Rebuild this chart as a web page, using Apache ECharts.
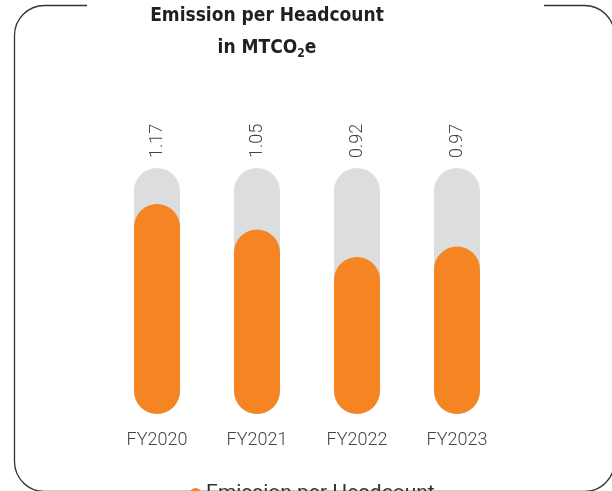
<!DOCTYPE html>
<html>
<head>
<meta charset="utf-8">
<script src="https://cdn.jsdelivr.net/npm/echarts@6/dist/echarts.min.js"></script>
<style>
  html, body { margin: 0; padding: 0; background: #fff; }
  #emissionChart { width: 612px; height: 491px; }
</style>
</head>
<body>
<div id="emissionChart"></div>
<script>
  // 数据
  var categories = ['FY2020', 'FY2021', 'FY2022', 'FY2023'];
  var emissionValues = [1.17, 1.05, 0.92, 0.97];
  var axisMin = 0.18;
  var axisMax = 1.34;
  // 灰色轨道 = 满刻度
  var trackValues = [axisMax, axisMax, axisMax, axisMax];

  var titleFont = '"Liberation Sans Narrow", "DejaVu Sans Condensed", sans-serif';

  var chart = echarts.init(document.getElementById('emissionChart'));
  chart.setOption({
    animation: false,
    title: {
      text: '{a|Emission per Headcount}\n{a|in MTCO}{s|2}{a|e}',
      left: 262,
      top: -5,
      textAlign: 'center',
      textStyle: {
        rich: {
          a: {
            fontFamily: titleFont,
            fontWeight: 'bold',
            fontSize: 19,
            color: '#231f20',
            lineHeight: 32
          },
          s: {
            fontFamily: titleFont,
            fontWeight: 'bold',
            fontSize: 12,
            color: '#231f20',
            padding: [12, 0, 0, 0]
          }
        }
      }
    },
    graphic: [
      {
        type: 'rect',
        z: 0,
        shape: {x: 14.5, y: 5.5, width: 600, height: 486, r: 30},
        style: {fill: 'none', stroke: '#333', lineWidth: 1.3}
      },
      {
        type: 'rect',
        z: 1,
        shape: {x: 87, y: 0, width: 457, height: 12},
        style: {fill: '#fff'}
      }
    ],
    legend: {
      data: ['Emission per Headcount'],
      left: 185,
      top: 478,
      icon: 'circle',
      itemWidth: 11,
      itemHeight: 11,
      itemGap: 10,
      textStyle: {
        fontFamily: 'Roboto',
        fontSize: 21,
        color: '#333'
      }
    },
    grid: {
      left: 107,
      right: 105,
      top: 168,
      bottom: 77
    },
    xAxis: {
      type: 'category',
      data: categories,
      axisLine: {show: false},
      axisTick: {show: false},
      axisLabel: {
        margin: 17,
        fontFamily: 'Roboto',
        fontWeight: 300,
        fontSize: 18,
        color: '#444'
      }
    },
    yAxis: {
      type: 'value',
      min: axisMin,
      max: axisMax,
      show: false,
      splitLine: {show: false}
    },
    series: [
      {
        name: 'track',
        type: 'bar',
        data: trackValues,
        barWidth: 46,
        silent: true,
        itemStyle: {color: '#dcdddf', borderRadius: 23},
        label: {
          show: true,
          position: 'top',
          distance: 10,
          rotate: 90,
          align: 'left',
          verticalAlign: 'middle',
          fontFamily: 'Roboto',
          fontWeight: 300,
          fontSize: 18,
          color: '#444',
          formatter: function (p) {
            return emissionValues[p.dataIndex].toFixed(2);
          }
        }
      },
      {
        name: 'Emission per Headcount',
        type: 'bar',
        data: emissionValues,
        barWidth: 46,
        barGap: '-100%',
        itemStyle: {color: '#f58522', borderRadius: 23}
      }
    ]
  });
</script>
</body>
</html>
